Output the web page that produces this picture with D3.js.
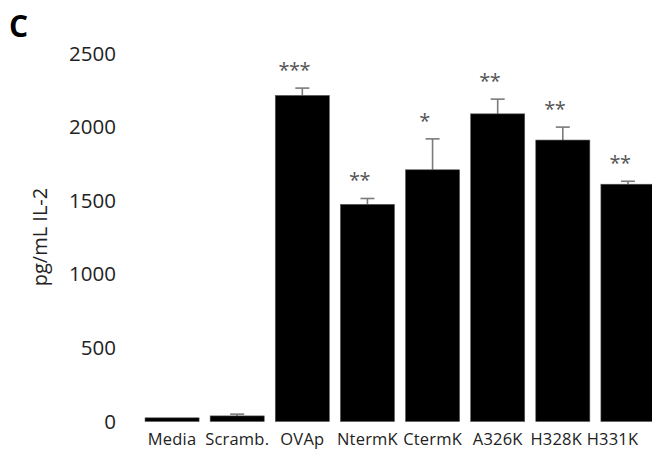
<!DOCTYPE html>
<html>
<head>
<meta charset="utf-8">
<script src="https://cdn.jsdelivr.net/npm/d3@7"></script>
<style>
  html, body { margin: 0; padding: 0; background: #fff; overflow: hidden; }
  svg { display: block; }
  text { font-family: "Open Sans", "Liberation Sans", sans-serif; }
</style>
</head>
<body>
<svg id="chart" width="652" height="453"></svg>
<script>
// IL-2 secretion per peptide condition
const categories = ["Media", "Scramb.", "OVAp", "NtermK", "CtermK", "A326K", "H328K", "H331K"];
const means      = [25, 38, 2215, 1475, 1710, 2090, 1912, 1612];
const errors     = [0, 12, 50, 40, 210, 100, 88, 20];
const stars      = ["", "", "***", "**", "*", "**", "**", "**"];
const yTicks     = [0, 500, 1000, 1500, 2000, 2500];

const W = 652;
const svg = d3.select("#chart");

const x = d3.scaleBand()
  .domain(categories)
  .range([139.5, 660.5])
  .paddingInner(0.17)
  .paddingOuter(0.085);

const y = d3.scaleLinear()
  .domain([0, 2500])
  .range([421.5, 53.5]);

// panel letter
svg.append("text")
  .attr("x", 9)
  .attr("y", 37)
  .attr("font-size", 30)
  .attr("font-weight", "bold")
  .attr("fill", "#000")
  .text("C");

// y axis: labels only
const yAxis = svg.append("g")
  .attr("transform", "translate(116,0)")
  .call(d3.axisLeft(y).tickValues(yTicks).tickSize(0).tickPadding(0).tickFormat(d3.format("d")));
yAxis.select(".domain").remove();
yAxis.selectAll("text")
  .attr("font-size", 20.5)
  .attr("font-family", "'Open Sans', sans-serif")
  .attr("fill", "#222");

// y axis title
svg.append("text")
  .attr("transform", "translate(47,237) rotate(-90)")
  .attr("text-anchor", "middle")
  .attr("font-size", 20)
  .attr("fill", "#222")
  .text("pg/mL IL-2");

// x axis: labels only
const xAxis = svg.append("g")
  .attr("transform", `translate(0,${y(0)})`)
  .call(d3.axisBottom(x).tickSize(0).tickPadding(0));
xAxis.select(".domain").remove();
xAxis.selectAll("text")
  .attr("font-size", 16.5)
  .attr("font-family", "'Open Sans', sans-serif")
  .attr("fill", "#222")
  .attr("letter-spacing", "0.2px")
  .attr("dy", "1.42em");

// keep the labels inside the page: pack from the right edge leftwards
const labels = xAxis.selectAll("text").nodes();
let limit = W - 13;
for (let i = labels.length - 1; i >= 0; i--) {
  const t = labels[i];
  const b = t.getBBox();
  const tickX = x(categories[i]) + x.bandwidth() / 2;
  const right = tickX + b.x + b.width;
  let shift = 0;
  if (right > limit) shift = limit - right;
  d3.select(t).attr("x", shift);
  limit = tickX + b.x + shift - 4;
}

const rows = categories.map((c, i) => ({ c, m: means[i], e: errors[i], s: stars[i] }));

// error bars (drawn upward only, behind the bars)
const eb = svg.append("g").attr("stroke", "#7a7a7a").attr("stroke-width", 1.6);
rows.filter(d => d.e > 0).forEach(d => {
  const cx = x(d.c) + x.bandwidth() / 2;
  eb.append("line").attr("x1", cx).attr("x2", cx).attr("y1", y(d.m)).attr("y2", y(d.m + d.e));
  eb.append("line").attr("x1", cx - 7).attr("x2", cx + 7).attr("y1", y(d.m + d.e)).attr("y2", y(d.m + d.e));
});

// bars
svg.append("g").selectAll("rect")
  .data(rows)
  .join("rect")
  .attr("x", d => x(d.c))
  .attr("y", d => y(d.m))
  .attr("width", x.bandwidth())
  .attr("height", d => y(0) - y(d.m))
  .attr("fill", "#000")
  .attr("stroke", "#555")
  .attr("stroke-width", 0.6);

// significance markers
svg.append("g").selectAll("text")
  .data(rows.filter(d => d.s))
  .join("text")
  .attr("x", d => x(d.c) + x.bandwidth() / 2 - 8)
  .attr("y", d => y(d.m + d.e) - 11)
  .attr("text-anchor", "middle")
  .attr("font-size", 20)
  .attr("fill", "#555")
  .attr("letter-spacing", "-0.5px")
  .text(d => d.s);
</script>
</body>
</html>
